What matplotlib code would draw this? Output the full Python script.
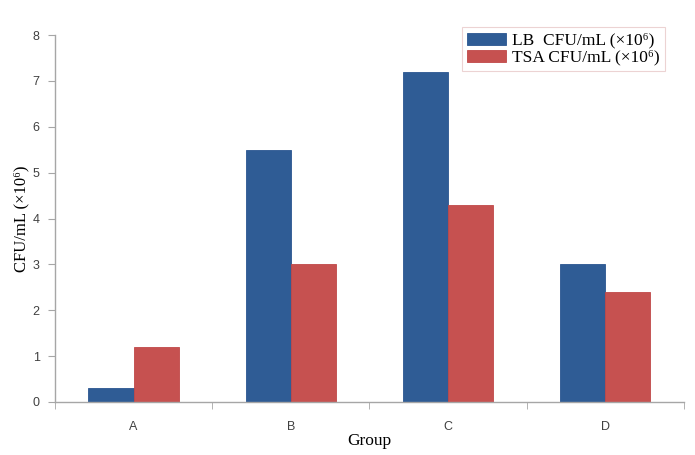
import matplotlib
matplotlib.use("Agg")
import matplotlib.pyplot as plt
import numpy as np

groups = ["A", "B", "C", "D"]
lb_values = [0.3, 5.5, 7.2, 3.0]
tsa_values = [1.2, 3.0, 4.3, 2.4]
series_labels = ["LB  CFU/mL (×10⁶)", "TSA CFU/mL (×10⁶)"]
y_ticks = [0, 1, 2, 3, 4, 5, 6, 7, 8]

blue = "#2F5C95"
red = "#C65150"
serif = ["Liberation Serif", "DejaVu Serif"]

fig = plt.figure(figsize=(6.95, 4.55), dpi=100)
ax = fig.add_axes([0.079, 0.1165, 0.905, 0.8065])

x = np.arange(len(groups))
w = 0.287
ax.bar(x - w / 2, lb_values, width=w, color=blue, edgecolor="#2A5590", linewidth=0.6, label=series_labels[0])
ax.bar(x + w / 2, tsa_values, width=w, color=red, edgecolor="#C04848", linewidth=0.6, label=series_labels[1])

ax.set_xlim(-0.5, len(groups) - 0.5)
ax.set_ylim(0, 8)
ax.set_yticks(y_ticks)
ax.set_xticks(x)
ax.set_xticklabels(groups)
ax.set_xticks(np.arange(len(groups) + 1) - 0.5, minor=True)

for s in ["top", "right"]:
    ax.spines[s].set_visible(False)
for s in ["left", "bottom"]:
    ax.spines[s].set_color("#A6A6A6")
    ax.spines[s].set_linewidth(1.0)

ax.tick_params(axis="y", direction="out", length=5, color="#A6A6A6", labelsize=9, labelcolor="#404040", pad=6)
ax.tick_params(axis="x", which="major", length=0, labelsize=9, labelcolor="#404040", pad=14)
ax.tick_params(axis="x", which="minor", direction="out", length=5, color="#A6A6A6")
for lab in ax.get_xticklabels() + ax.get_yticklabels():
    lab.set_family(["Liberation Sans", "DejaVu Sans"])

ax.set_ylabel("CFU/mL (×10⁶)", family=serif, fontsize=12)
ax.yaxis.set_label_coords(-0.04, 0.5)
ax.set_xlabel("Group", family=serif, fontsize=12.5, labelpad=0)
ax.xaxis.set_label_coords(0.5, -0.085)

leg = ax.legend(loc="upper right", bbox_to_anchor=(0.976, 1.03), prop={"family": serif, "size": 12.5},
                frameon=True, fancybox=False, handlelength=2.2, handleheight=0.7,
                borderpad=0.3, labelspacing=0.05, handletextpad=0.4, borderaxespad=0.2)
leg.get_frame().set_edgecolor("#E8C8C8")
leg.get_frame().set_linewidth(0.8)

fig.savefig("out.png", dpi=100)
